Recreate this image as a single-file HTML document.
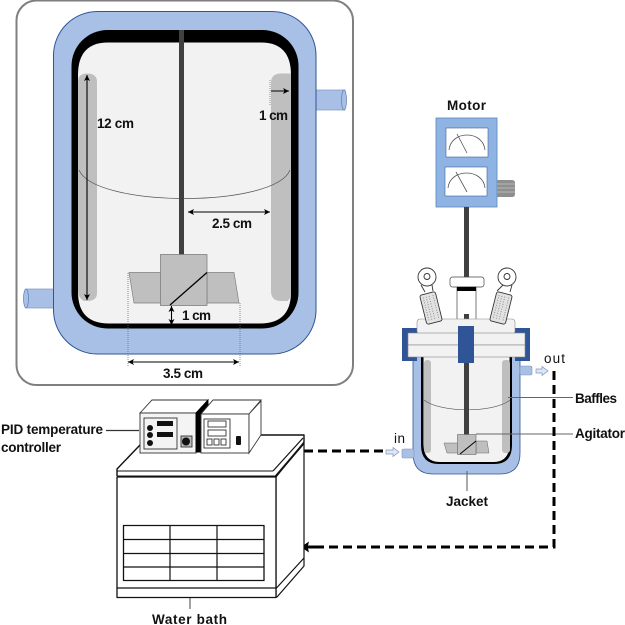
<!DOCTYPE html>
<html><head><meta charset="utf-8">
<style>
html,body{margin:0;padding:0;background:#fff}
svg{display:block}
text{font-family:"Liberation Sans",sans-serif;font-size:13.500px;font-weight:bold;fill:#111}
</style></head><body>
<svg width="625" height="625" viewBox="0 0 625 625" xmlns="http://www.w3.org/2000/svg">
<defs>
<marker id="a" markerWidth="7" markerHeight="7" refX="6" refY="3" orient="auto-start-reverse" markerUnits="userSpaceOnUse"><path d="M0,0 L6,3 L0,6 L1.500,3Z" fill="#000"/></marker>
</defs>

<!-- enlarged vessel -->
<rect x="16.500" y="0.500" width="336.500" height="384.500" rx="20" fill="#fff" stroke="#7f7f7f" stroke-width="2"/>
<rect x="316" y="90" width="29" height="20" fill="#a9c0e6" stroke="#7f95bd" stroke-width=".7"/>
<ellipse cx="344" cy="100" rx="2.500" ry="10" fill="#a9c0e6" stroke="#5b7bb0" stroke-width=".7"/>
<rect x="26" y="289" width="28" height="19" fill="#a9c0e6" stroke="#7f95bd" stroke-width=".7"/>
<ellipse cx="26" cy="298.500" rx="2.500" ry="9.500" fill="#a9c0e6" stroke="#5b7bb0" stroke-width=".7"/>
<rect x="53.500" y="11.500" width="262.500" height="342.500" rx="44" fill="#a9c0e6" stroke="#2f5597" stroke-width="1"/>
<rect x="71.500" y="30" width="227" height="298.500" rx="36" fill="#000"/>
<path d="M108,42.500 H261 Q291,42.500 291,75 V292 Q291,323.500 260,323.500 H109 Q78,323.500 78,292 V75 Q78,42.500 108,42.500Z" fill="#f2f2f2"/>
<path d="M78,82 Q78,73.500 87,73.500 Q97,73.500 97,82 V293 Q97,301 87,301 H84 Q78,298 78,290Z" fill="#bfbfbf"/>
<path d="M291,73.500 H281 Q271,73.500 271,83 V291 Q271,301 281,301 H288 L291,296Z" fill="#bfbfbf"/>
<path d="M79,170 C95,208 275,208 290,170" fill="none" stroke="#555" stroke-width=".7"/>
<rect x="179" y="30" width="5" height="225" fill="#404040"/>
<path d="M129,272.500 H161 V303 H134Z M207,272.500 H234 L239,303 H207Z" fill="#bfbfbf" stroke="#7f7f7f" stroke-width=".7"/>
<rect x="160.500" y="254.500" width="46.500" height="51" fill="#bfbfbf" stroke="#7f7f7f" stroke-width=".8"/>
<path d="M170,305 L207,272.500" stroke="#000" stroke-width="1.300"/>
<path d="M128,273 V367 M240,303 V367 M270,80 V105" stroke="#666" stroke-width=".7" stroke-dasharray="1 1" fill="none"/>
<path d="M87,75 V300" stroke="#000" stroke-width="1.100" marker-start="url(#a)" marker-end="url(#a)"/>
<path d="M271,91 H289" stroke="#000" stroke-width="1.100" marker-end="url(#a)"/>
<path d="M188,212 H270" stroke="#000" stroke-width="1.100" marker-start="url(#a)" marker-end="url(#a)"/>
<path d="M171.500,306 V325" stroke="#000" stroke-width="1.100" marker-start="url(#a)" marker-end="url(#a)"/>
<path d="M128,362 H239" stroke="#000" stroke-width="1.100" marker-start="url(#a)" marker-end="url(#a)"/>
<text x="97" y="128" textLength="37">12 cm</text>
<text x="259" y="120" textLength="29">1 cm</text>
<text x="212" y="228" textLength="40">2.5 cm</text>
<text x="182" y="320" textLength="29">1 cm</text>
<text x="163" y="378" textLength="40">3.5 cm</text>

<!-- motor -->
<text x="447" y="110" textLength="39">Motor</text>
<rect x="436" y="118" width="61" height="89" fill="#8fb4e3" stroke="#5b86bd" stroke-width=".8"/>
<rect x="446" y="128" width="42" height="29" fill="#fff" stroke="#3f5f96" stroke-width=".6"/>
<rect x="445" y="167" width="42" height="29" fill="#fff" stroke="#3f5f96" stroke-width=".6"/>
<path d="M449,150 C451,130 483,130 485,150 M457,134 L467,153" fill="none" stroke="#555" stroke-width=".8"/>
<path d="M448,188 C450,168 483,168 485,188 M456,172 L467,192" fill="none" stroke="#555" stroke-width=".8"/>
<path d="M497,180 H512 Q515,180 515,183 V194 Q515,197 512,197 H497Z" fill="#8f8f8f"/>
<path d="M497,184 H515 M497,188 H515 M497,192 H515" stroke="#c5c5c5" stroke-width=".8"/>
<rect x="464" y="207" width="5" height="72" fill="#404040"/>
<rect x="450" y="277" width="34" height="10" rx="2.500" fill="#fff" stroke="#444" stroke-width=".7"/>
<rect x="457" y="287" width="19" height="33" fill="#fff" stroke="#444" stroke-width=".7"/>
<rect x="457" y="287" width="19" height="4" fill="#000"/>
<rect x="464" y="314" width="5" height="14" fill="#404040"/>

<!-- small reactor -->
<path d="M413,355 H520 V453 Q520,474 500,474 H433 Q413,474 413,453Z" fill="#a9c0e6" stroke="#2f5597" stroke-width=".8"/>
<path d="M421,357 H512 V445 Q512,464 494,464 H439 Q421,464 421,445Z" fill="#000"/>
<path d="M423.500,357 H509.500 V444 Q509.500,462 493,462 H440 Q423.500,462 423.500,444Z" fill="#f2f2f2"/>
<rect x="424" y="360" width="7" height="93" rx="3" fill="#bfbfbf"/>
<rect x="502" y="360" width="8" height="93" rx="3" fill="#bfbfbf"/>
<path d="M424,400 C440,413 495,413 510,400" fill="none" stroke="#555" stroke-width=".6"/>
<rect x="464" y="363" width="5" height="72" fill="#404040"/>
<path d="M444,443 H458 V453 H447Z M476,441 H487 L489,453 H476Z" fill="#bfbfbf" stroke="#666" stroke-width=".5"/>
<rect x="457.500" y="434.500" width="18.500" height="20" fill="#bfbfbf" stroke="#666" stroke-width=".6"/>
<path d="M460,454 L476,441" stroke="#000" stroke-width="1"/>
<path d="M402,328 H417 V333 H408 V357 H417 V361 H402Z" fill="#2f5597"/>
<path d="M515,328 H530 V361 H515 V357 H525 V333 H515Z" fill="#2f5597"/>
<rect x="417" y="319" width="98" height="15" rx="3" fill="#f2f2f2" stroke="#888" stroke-width=".6"/>
<rect x="408" y="333" width="117" height="12" fill="#f2f2f2" stroke="#888" stroke-width=".6"/>
<rect x="408" y="345" width="117" height="12" fill="#f2f2f2" stroke="#888" stroke-width=".6"/>
<rect x="458" y="326" width="16" height="37" fill="#2f5597"/>
<g stroke="#333" stroke-width=".9">
<path d="M421,285 L425,292 M432,285 L433,291 M503,285 L497,291 M512,285 L510,292" fill="none"/>
<circle cx="427" cy="277" r="9" fill="#fff"/><circle cx="427" cy="276.500" r="3" fill="#fff"/>
<circle cx="507" cy="277" r="9" fill="#fff"/><circle cx="507" cy="276.500" r="3" fill="#fff"/>
<g transform="rotate(-14 431 308)"><rect x="423" y="293" width="16" height="30" rx="2" fill="#e2e2e2"/><path d="M426,296V320M429,296V320M432,296V320M436,296V320" stroke="#888" stroke-dasharray="1 1.500" fill="none"/></g>
<g transform="rotate(14 501 308)"><rect x="493" y="293" width="16" height="30" rx="2" fill="#e2e2e2"/><path d="M496,296V320M499,296V320M502,296V320M506,296V320" stroke="#888" stroke-dasharray="1 1.500" fill="none"/></g>
</g>
<rect x="520" y="366" width="12" height="9" rx="1.500" fill="#a9c0e6" stroke="#7f95bd" stroke-width=".6"/>
<rect x="402" y="449" width="12" height="9" rx="1.500" fill="#a9c0e6" stroke="#7f95bd" stroke-width=".6"/>
<path d="M536,369 H542 V366.500 L548,371 L542,375.500 V373 H536Z M386,450 H393 V447.500 L399,452 L393,456.500 V454 H386Z" fill="#dce6f4" stroke="#7f95bd" stroke-width=".7"/>
<path d="M508,397.500 H573 M476,434 H573 M467,471 V491" stroke="#666" stroke-width="1.100" fill="none"/>
<text x="544" y="363" textLength="21" style="font-weight:normal">out</text>
<text x="394" y="443" textLength="11" style="font-weight:normal">in</text>
<text x="575" y="403" textLength="42">Baffles</text>
<text x="575" y="438" textLength="50">Agitator</text>
<text x="446" y="506" textLength="42">Jacket</text>

<!-- dashed lines -->
<path d="M304,451 H385" stroke="#000" stroke-width="3" stroke-dasharray="9 5" fill="none"/>
<path d="M554,371 V547 H310" stroke="#000" stroke-width="3" stroke-dasharray="9 5" fill="none"/>
<path d="M301,547 L309,541.500 L308,545.500 H318 V548.500 H308 L309,552.500Z" fill="#000"/>

<!-- water bath -->
<g stroke="#111" fill="#fff" stroke-linejoin="round">
<path d="M117,469 L140,445 L160,435 H304 V442 L275,477 H117Z" stroke="none"/>
<path d="M117,476 V469 L140,445 M240,435 H304 V442" fill="none" stroke-width="1.400"/>
<path d="M276,477 L304,442 V566 L277,597 H276Z" stroke-width="1.200"/>
<rect x="117" y="477" width="159" height="120.500" stroke-width="1.300"/>
<path d="M117,471 H273" stroke-width="1"/>
<path d="M117,476.500 H275" stroke-width="2"/>
<path d="M273,471 L303,438" stroke-width="1.200" fill="none"/>
<path d="M275,477 L304,443" stroke-width="2" fill="none"/>
<path d="M117,588 H276.500 L304,558" stroke-width="1.200" fill="none"/>
<rect x="123.500" y="525.500" width="140.500" height="55" stroke-width="1.300"/>
<path d="M123.500,539.500 H264 M123.500,553.500 H264 M123.500,567 H264 M170,525.500 V580.500 M217,525.500 V580.500" stroke-width="1.200" fill="none"/>
</g>
<path d="M190,598 V609" stroke="#444" stroke-width="1"/>
<text x="152" y="624" textLength="75">Water bath</text>

<!-- controllers -->
<path d="M106,430.500 H139" stroke="#333" stroke-width="1.200"/>
<g stroke="#333" stroke-width=".9" fill="#fff">
<path d="M140,413 L152,400 H208 L196,413Z"/>
<rect x="140" y="413" width="56" height="40" fill="#f4f4f4"/>
<path d="M196,413 L208,400 V409 L202,416 V452 H196Z" fill="#000" stroke="#000"/>
<path d="M201,414 L213,400 H261 L249,414Z"/>
<rect x="201" y="414" width="48" height="39"/>
<path d="M249,414 L261,401 V435 L249,453Z"/>
<rect x="144" y="418" width="33" height="31" fill="none"/>
<rect x="204" y="419" width="26" height="29" fill="none"/>
<rect x="208" y="421" width="18" height="6" fill="none"/><rect x="208" y="430" width="18" height="6" fill="none"/>
<rect x="207" y="439" width="5" height="6" fill="none"/><rect x="214" y="439" width="5" height="6" fill="none"/><rect x="221" y="439" width="5" height="6" fill="none"/>
<rect x="181" y="436" width="11" height="11" fill="#bbb"/>
</g>
<path d="M157,421 H173 V426 H157Z M157,432 H173 V437 H157Z" fill="#111"/>
<circle cx="150" cy="428" r="3" fill="#111"/><circle cx="150" cy="435" r="3" fill="#111"/><circle cx="150" cy="443" r="3" fill="#111"/>
<circle cx="186" cy="441.500" r="4" fill="#111"/>
<rect x="236" y="436" width="5" height="9" rx="1" fill="#111"/>
<text x="1" y="434" textLength="102">PID temperature</text>
<text x="1" y="452" textLength="60">controller</text>
</svg>
</body></html>
